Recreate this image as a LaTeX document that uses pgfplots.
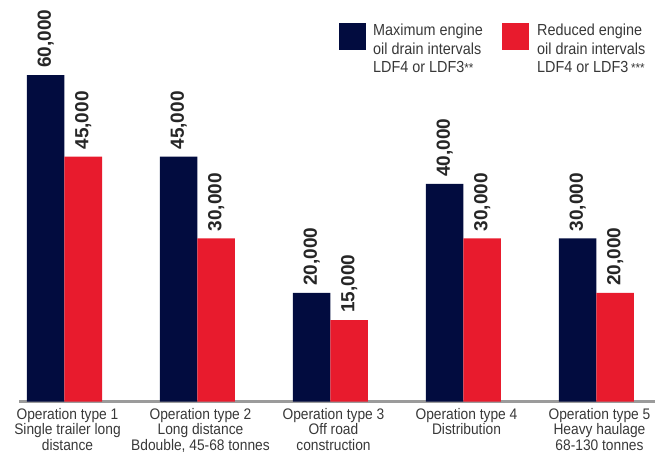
\documentclass[border=0pt]{standalone}
\usepackage{fontspec}
\setmainfont{Liberation Sans}
\newfontfamily\legfont{Liberation Sans}[FakeStretch=0.9]
\usepackage{pgfplots}
\pgfplotsset{compat=1.18}
\definecolor{navy}{HTML}{020C3F}
\definecolor{redbar}{HTML}{E81B2D}
\definecolor{txt}{HTML}{383838}
\definecolor{axgray}{HTML}{9B9B9B}
\begin{document}
\begin{tikzpicture}[x=1pt,y=1pt]
\path[use as bounding box] (0,0) rectangle (655,455);
\begin{axis}[
  at={(19pt,53.3pt)}, anchor=south west,
  scale only axis, width=636pt, height=401.7pt,
  xmin=-0.3421, xmax=4.440, ymin=0, ymax=73788,
  axis x line=bottom, axis y line=none,
  x axis line style={draw=axgray, line width=3pt, -},
  ytick=\empty,
  xtick={0,1,2,3,4},
  major tick length=0pt,
  xticklabels={{Operation type 1\\Single trailer long\\distance},
               {Operation type 2\\Long distance\\Bdouble, 45-68 tonnes},
               {Operation type 3\\Off road\\construction},
               {Operation type 4\\Distribution},
               {Operation type 5\\Heavy haulage\\68-130 tonnes}},
  x tick label style={align=center, text=txt, font=\legfont\fontsize{15.3}{15.5}\selectfont, xshift=3pt, yshift=-3pt},
  ybar, bar width=37.5pt,
  clip=false,
  nodes near coords={\pgfmathprintnumber[fixed,precision=0,1000 sep={,},assume math mode=true]{\pgfplotspointmeta}},
  every node near coord/.append style={rotate=90, anchor=west, inner xsep=7pt, inner ysep=0pt, text=black!85, font=\fontsize{19}{19}\selectfont\bfseries},
]
\addplot[fill=navy, draw=none, bar shift=-18.75pt] coordinates {(0,60000) (1,45000) (2,20000) (3,40000) (4,30000)};
\addplot[fill=redbar, draw=none, bar shift=18.75pt] coordinates {(0,45000) (1,30000) (2,15000) (3,30000) (4,20000)};
\end{axis}
% legend
\fill[navy] (339,432) rectangle (366,405);
\fill[redbar] (502,432) rectangle (529,405);
\node[anchor=north west, inner sep=0pt, align=left, text=txt, font=\legfont\fontsize{16}{18.5}\selectfont] at (373,431)
  {Maximum engine\\oil drain intervals\\LDF4 or LDF3{\fontsize{13}{13}\selectfont\raisebox{0.5pt}{**}}};
\node[anchor=north west, inner sep=0pt, align=left, text=txt, font=\legfont\fontsize{16}{18.5}\selectfont] at (537,431)
  {Reduced engine\\oil drain intervals\\LDF4 or LDF3\,{\fontsize{13}{13}\selectfont\raisebox{0.5pt}{***}}};
\end{tikzpicture}
\end{document}
